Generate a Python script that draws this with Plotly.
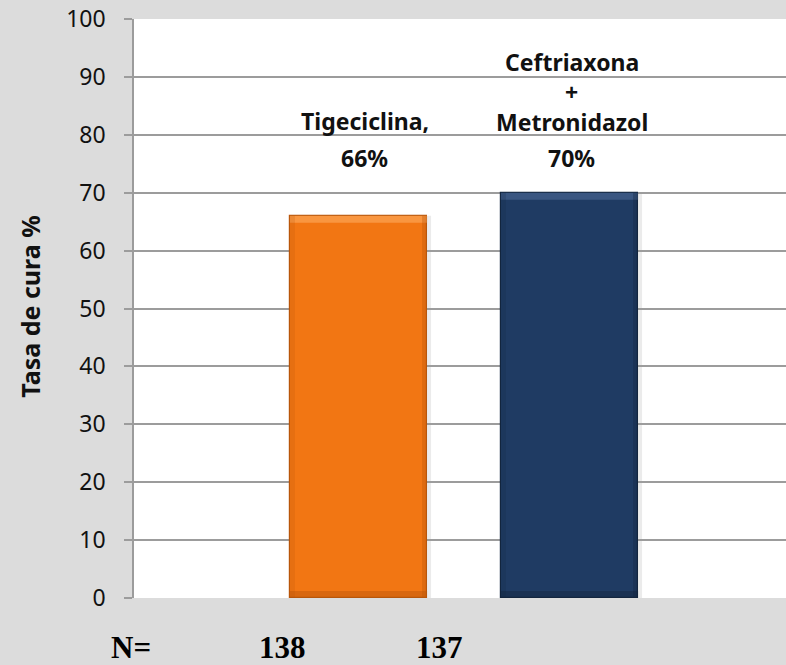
import plotly.graph_objects as go

# Cure-rate comparison of the two treatment arms
treatments = ["Tigeciclina", "Ceftriaxona + Metronidazol"]
label_lines = [["Tigeciclina,", "66%"], ["Ceftriaxona", "+", "Metronidazol", "70%"]]
cure_rate = [66, 70]
patients = [138, 137]
bar_colors = ["#F27613", "#1F3B63"]
edge_colors = ["#B9560A", "#13263F"]
light_colors = ["#FFB066", "#4F6E9A"]
y_ticks = list(range(0, 101, 10))

positions = [i + 1 for i in range(len(treatments))]
bar_width = 0.65

fig = go.Figure()
fig.add_trace(go.Bar(
    x=positions,
    y=cure_rate,
    width=bar_width,
    marker=dict(color=bar_colors, line=dict(color=edge_colors, width=1.2)),
    hoverinfo="skip",
    showlegend=False,
))

shapes = []
for pos, val, light, dark in zip(positions, cure_rate, light_colors, edge_colors):
    x0, x1 = pos - bar_width / 2, pos + bar_width / 2
    # soft drop shadow on the right side
    shapes.append(dict(type="rect", xref="x", yref="y", x0=0, x1=4,
                       xsizemode="pixel", xanchor=x1, y0=0, y1=val,
                       line=dict(width=0), fillcolor="rgba(0,0,0,0.08)",
                       layer="below"))
    # bevel: light top edge
    shapes.append(dict(type="rect", xref="x", yref="y", x0=x0, x1=x1,
                       ysizemode="pixel", yanchor=val, y0=-7, y1=0,
                       line=dict(width=0), fillcolor=light, opacity=0.55))
    # bevel: dark bottom edge
    shapes.append(dict(type="rect", xref="x", yref="y", x0=x0, x1=x1,
                       ysizemode="pixel", yanchor=0, y0=0, y1=7,
                       line=dict(width=0), fillcolor=dark, opacity=0.45))
    # bevel: dark right and left edges
    shapes.append(dict(type="rect", xref="x", yref="y", x0=-5, x1=0,
                       xsizemode="pixel", xanchor=x1, y0=0, y1=val,
                       line=dict(width=0), fillcolor=dark, opacity=0.35))
    shapes.append(dict(type="rect", xref="x", yref="y", x0=0, x1=5,
                       xsizemode="pixel", xanchor=x0, y0=0, y1=val,
                       line=dict(width=0), fillcolor=dark, opacity=0.2))

sans = "Noto Sans"
annotations = []
label_font = dict(family=sans, size=23, color="#111111")
label_rows = [[0.824, 0.760], [0.926, 0.874, 0.822, 0.760]]
label_shift = [6, 2]
for pos, lines, rows, shift in zip(positions, label_lines, label_rows, label_shift):
    for txt, yy in zip(lines, rows):
        annotations.append(dict(x=pos, xref="x", y=yy, yref="paper",
                                text=f"<b>{txt}</b>", showarrow=False,
                                xshift=shift, font=label_font,
                                xanchor="center", yanchor="middle"))

# patient counts row below the axis
n_font = dict(family="Liberation Serif", size=31, color="#000000")
annotations.append(dict(x=-0.005, y=-0.086, xref="paper", yref="paper",
                        text="<b>N=</b>", showarrow=False, font=n_font,
                        xanchor="center", yanchor="middle"))
for xp, n in zip([0.227, 0.468], patients):
    annotations.append(dict(x=xp, y=-0.086, xref="paper", yref="paper",
                            text=f"<b>{n}</b>", showarrow=False, font=n_font,
                            xanchor="center", yanchor="middle"))

# y-axis title
annotations.append(dict(x=-0.1595, y=0.503, xref="paper", yref="paper",
                        text="<b>Tasa de cura %</b>", showarrow=False,
                        textangle=-90, xanchor="center", yanchor="middle",
                        font=dict(family=sans, size=25, color="#111111")))

left_px = 134
plot_w = 786 - left_px
unit_px = 211
x_left = 1 - (358.5 - left_px) / unit_px
x_right = x_left + plot_w / unit_px

fig.update_layout(
    width=786, height=665,
    margin=dict(l=left_px, r=0, t=19, b=67),
    paper_bgcolor="#DCDCDC",
    plot_bgcolor="#FFFFFF",
    bargap=0,
    shapes=shapes,
    annotations=annotations,
    xaxis=dict(range=[x_left, x_right], showticklabels=False, showgrid=False,
               zeroline=False, showline=False, ticks=""),
    yaxis=dict(range=[0, 100], tickvals=y_ticks, showgrid=True,
               gridcolor="#9C9C9C", gridwidth=1.5, zeroline=False,
               showline=True, linecolor="#9C9C9C", linewidth=1.5,
               ticks="outside", ticklen=8, tickcolor="#9C9C9C", tickwidth=1.5,
               ticklabelstandoff=14,
               tickfont=dict(family=sans, size=23, color="#111111")),
)

fig.write_html("out.html")
